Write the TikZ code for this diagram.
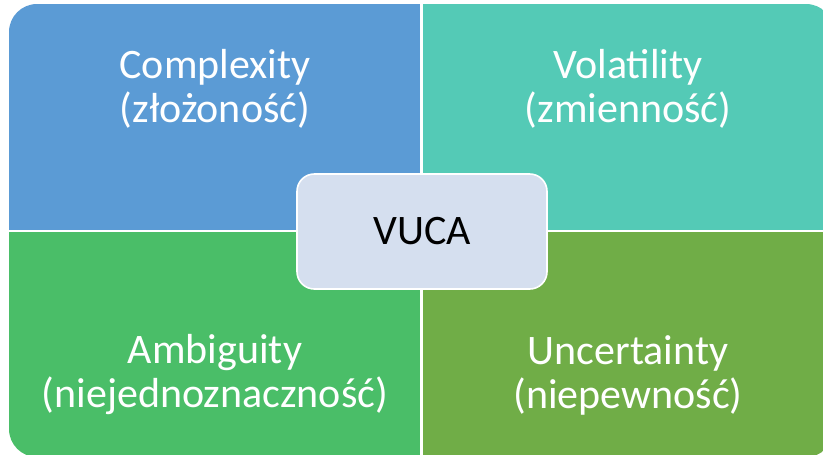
\documentclass[tikz,border=0pt]{standalone}
\usepackage{fontspec}
\setmainfont{Carlito}
\definecolor{cplxblue}{RGB}{91,155,213}
\definecolor{volteal}{RGB}{84,202,182}
\definecolor{ambgreen}{RGB}{74,190,104}
\definecolor{uncgreen}{RGB}{112,173,71}
\definecolor{vucafill}{RGB}{213,223,239}
\newcommand\quadfont{\fontsize{31.5}{33}\selectfont\lineskiplimit=-100pt\relax}
\tikzset{
  quadtext/.style={text=white, align=center, inner sep=0.75pt, font=\quadfont},
  vucabox/.style={draw=white, line width=1.2pt, fill=vucafill, rounded corners=13pt,
    minimum width=187.5pt, minimum height=86.25pt, font=\fontsize{31.5}{33}\selectfont}
}
\begin{document}
\begin{tikzpicture}[x=0.75pt,y=0.75pt,yscale=-1,xscale=1]
\useasboundingbox (0,0) rectangle (823,454);

%Quadrants
\begin{scope}
\clip [rounded corners=21pt] (9,4) rectangle (834,457);
\fill [cplxblue] (9,4) rectangle (420,229.5);
\fill [volteal] (423,4) rectangle (834,229.5);
\fill [ambgreen] (9,232) rectangle (420,457);
\fill [uncgreen] (423,232) rectangle (834,457);
\end{scope}

% Text Node
\node [quadtext] (cplx) at (215,88.8) {Complexity\\(złożoność)};
% Text Node
\node [quadtext] (vol) at (628,88.8) {Volatility\\(zmienność)};
% Text Node
\node [quadtext] (amb) at (215,374.3) {Ambiguity\\(niejednoznaczność)};
% Text Node
\node [quadtext] (unc) at (628,375) {Uncertainty\\(niepewność)};

% Center Node
\node [vucabox] (vuca) at (422,231.5) {VUCA};

\end{tikzpicture}
\end{document}
